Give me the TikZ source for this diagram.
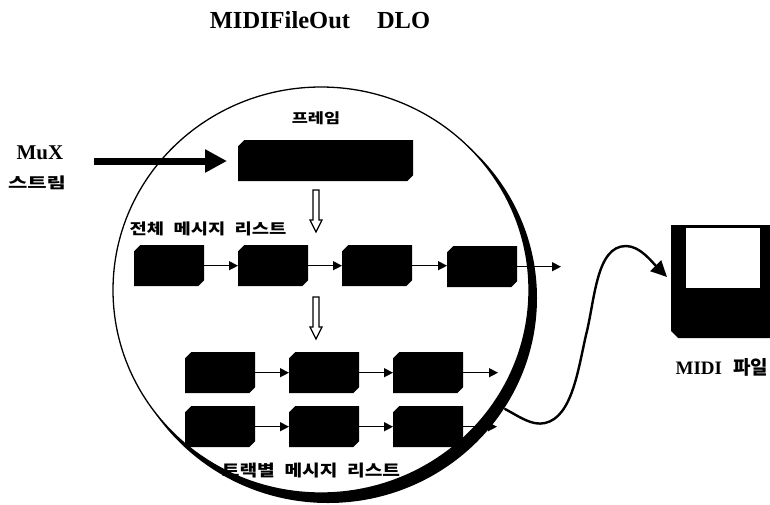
\documentclass[tikz,border=0pt]{standalone}
\usepackage{graphicx}
\usepackage{fontspec}
\setmainfont{Liberation Serif}
\newfontfamily\krfont{Noto Sans CJK KR}
\usetikzlibrary{arrows.meta}
\tikzset{
  blk/.style={rectangle,inner sep=0pt,minimum width=70pt,minimum height=41pt,anchor=north west,
    path picture={\fill[black] ([xshift=6pt]path picture bounding box.north west) -- (path picture bounding box.north east) -- ([yshift=6pt]path picture bounding box.south east) -- ([xshift=-6pt]path picture bounding box.south east) -- (path picture bounding box.south west) -- ([yshift=-6pt]path picture bounding box.north west) -- cycle;}},
  lnk/.style={line width=1.3pt,-{Triangle[length=9pt,width=9pt]}},
  hollowline/.style={draw=black,fill=white,line width=1.2pt,line join=miter},
  kr/.style={font=\krfont\bfseries\fontsize{14}{16}\selectfont,inner sep=0pt},
  ser/.style={font=\bfseries\fontsize{21}{24}\selectfont,inner sep=0pt}
}
\begin{document}
\begin{tikzpicture}[x=1pt,y=-1pt]
\useasboundingbox (0,0) rectangle (770,504);
\fill[white] (0,0) rectangle (770,504);
% circle with shadow crescent
\fill[black] (328,298) ellipse [x radius=209,y radius=205];
\filldraw[fill=white,draw=black,line width=1.3pt] (321,290) ellipse [x radius=208,y radius=203];
% title and labels
\node[ser,font=\bfseries\fontsize{24.5}{28}\selectfont] (title) at (320,20) {MIDIFileOut\hspace{27pt}DLO};
\node[ser] (mux) at (40,153) {MuX};
\node[kr,font=\krfont\bfseries\fontsize{15}{17}\selectfont] (stream) at (37,183) {\scalebox{1.4}[1]{스트림}};
\node[kr] (framelbl) at (316,118) {\scalebox{1.25}[1]{프레임}};
\node[kr,font=\krfont\bfseries\fontsize{15}{17}\selectfont] (alllbl) at (208,229) {\scalebox{1.25}[1]{전체\hspace{.5em}메시지\hspace{.5em}리스트}};
\node[kr,font=\krfont\bfseries\fontsize{16}{18}\selectfont] (tracklbl) at (311,471) {\scalebox{1.2}[1]{트랙별\hspace{.5em}메시지\hspace{.5em}리스트}};
\node[ser,font=\bfseries\fontsize{19}{22}\selectfont] (midilbl) at (722,367) {MIDI\hspace{.6em}{\krfont 파일}};
% frame
\node[blk,minimum width=175pt] (frame) at (238,140) {};
% row 1
\node[blk] (a1) at (134,245) {};
\node[blk] (a2) at (238,245) {};
\node[blk] (a3) at (342,245) {};
\node[blk] (a4) at (447,246) {};
\coordinate (aend) at (561,266);
% row 2
\node[blk] (b1) at (185,352) {};
\node[blk] (b2) at (289,352) {};
\node[blk] (b3) at (393,352) {};
\coordinate (bend) at (498,372);
% row 3
\node[blk] (c1) at (185,406) {};
\node[blk] (c2) at (289,406) {};
\node[blk] (c3) at (393,406) {};
\coordinate (cend) at (497,426);
\draw[lnk] (a1.east) -- (a2.west);
\draw[lnk] (a2.east) -- (a3.west);
\draw[lnk] (a3.east) -- (a3.east-|a4.west);
\draw[lnk] (a4.east) -- (a4.east-|aend);
\draw[lnk] (b1.east) -- (b2.west);
\draw[lnk] (b2.east) -- (b3.west);
\draw[lnk] (b3.east) -- (b3.east-|bend);
\draw[lnk] (c1.east) -- (c2.west);
\draw[lnk] (c2.east) -- (c3.west);
\draw[lnk] (c3.east) -- (c3.east-|cend);
% hollow arrows
\coordinate (h1) at (316,211);
\coordinate (h2) at (316,318);
\foreach \h in {h1,h2}
  \draw[hollowline] (\h)+(-3,-21) -- +(3,-21) -- +(3,9) -- +(6,9) -- +(0,21) -- +(-6,9) -- +(-3,9) -- cycle;
% MuX arrow
\coordinate (muxstart) at (94,161);
\draw[line width=7pt,-{Triangle[length=22pt,width=22pt]},shorten >=11pt] (muxstart) -- (frame.west|-muxstart);
% floppy
\node[rectangle,inner sep=0pt,minimum width=100pt,minimum height=113pt,anchor=north west,
  path picture={\fill[black] (path picture bounding box.north west) -- (path picture bounding box.north east) -- (path picture bounding box.south east) -- ([xshift=7pt]path picture bounding box.south west) -- ([yshift=7pt]path picture bounding box.south west) -- cycle;}] (disk) at (671,225) {};
\fill[white] (686,228) rectangle (760,288);
% curve to floppy
\coordinate (cstart) at (505,409);
\coordinate (ctip) at (667,277);
\draw[line width=2.4pt,line cap=round,-{Triangle[length=16pt,width=15pt]}] (cstart) .. controls (520,417) and (532,426) .. (545,423) .. controls (572,417) and (578,370) .. (586,335) .. controls (595,300) and (596,246) .. (626,246) .. controls (640,246) and (652,262) .. (ctip);
\end{tikzpicture}
\end{document}
